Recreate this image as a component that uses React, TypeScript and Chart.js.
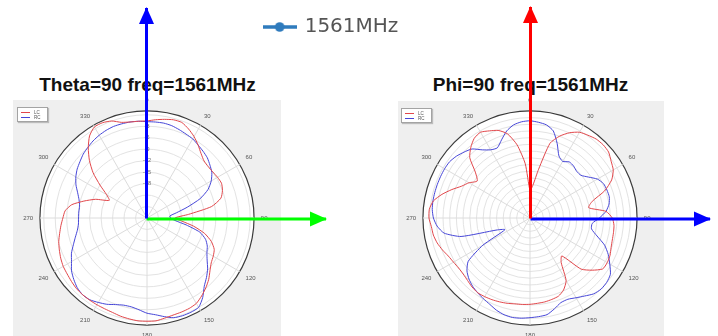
import React, { useEffect, useRef } from 'react';
import { Chart, registerables } from 'chart.js';

Chart.register(...registerables);

// ---------- data ----------
const angleCategories = [
  0, 5, 10, 15, 20, 25, 30, 35, 40, 45, 50, 55,
  60, 65, 70, 75, 80, 85, 90, 95, 100, 105, 110, 115,
  120, 125, 130, 135, 140, 145, 150, 155, 160, 165, 170, 175,
  180, 185, 190, 195, 200, 205, 210, 215, 220, 225, 230, 235,
  240, 245, 250, 255, 260, 265, 270, 275, 280, 285, 290, 295,
  300, 305, 310, 315, 320, 325, 330, 335, 340, 345, 350, 355,
];

// Theta=90 cut (dB)
const thetaLC = [
  -1.6, -1.2, -0.8, -0.4, -0.4, -1.3, -2.4, -3.7, -5.0, -5.9, -6.1, -6.0,
  -5.7, -5.5, -6.0, -7.0, -9.9, -16.1, -19.7, -17.9, -14.6, -11.4, -9.1, -7.6,
  -7.0, -6.5, -5.5, -4.2, -3.1, -2.1, -1.2, -0.9, -0.8, -0.7, -0.4, 0.0,
  0.0, 0.0, -0.2, -0.4, -0.7, -0.8, -0.8, -0.8, -0.8, -0.9, -1.2, -1.5,
  -1.7, -2.1, -2.6, -3.1, -3.8, -4.4, -5.0, -5.5, -7.0, -9.9, -12.7, -16.1,
  -14.8, -12.0, -8.6, -5.7, -3.1, -0.8, 0.5, 0.5, 0.0, -1.1, -1.5, -1.6,
];
const thetaRC = [
  -1.8, -1.8, -1.8, -2.0, -2.4, -2.8, -3.1, -3.7, -4.2, -4.7, -5.5, -6.3,
  -7.6, -9.4, -12.2, -16.1, -19.2, -21.0, -20.8, -19.7, -16.6, -12.7, -10.7, -9.6,
  -8.9, -7.8, -6.3, -5.0, -3.7, -1.6, 0.0, 0.2, 0.2, 0.0, -0.8, -1.6,
  -2.1, -2.9, -3.4, -3.4, -2.9, -2.1, -1.5, -0.9, -0.8, -1.2, -2.0, -2.9,
  -4.2, -5.2, -6.5, -7.6, -8.5, -9.0, -9.1, -9.1, -9.1, -8.6, -7.7, -6.5,
  -5.5, -4.7, -4.1, -3.4, -2.9, -2.4, -2.0, -1.7, -1.5, -1.5, -1.5, -1.6,
];

// Phi=90 cut (dB)
const phiLC = [
  -34.6, -32.3, -24.8, -12.3, -7.9, -4.8, -2.6, -1.7, -0.8, -0.6, -1.0, -2.6,
  -3.9, -6.6, -11.4, -18.1, -20.3, -12.8, -10.1, -9.2, -9.0, -8.8, -8.3, -7.4,
  -7.0, -7.2, -10.6, -14.6, -24.8, -22.6, -14.6, -11.4, -9.7, -9.2, -8.8, -8.6,
  -8.3, -8.1, -7.9, -7.4, -7.0, -6.6, -6.3, -6.1, -6.6, -7.4, -7.9, -7.9,
  -7.4, -6.6, -5.2, -3.9, -3.0, -2.6, -1.7, -1.7, -3.0, -6.1, -9.7, -13.2,
  -15.4, -18.1, -15.0, -8.8, -5.7, -3.4, -2.6, -3.9, -5.2, -7.9, -13.7, -22.6,
];
const phiRC = [
  -3.4, -3.9, -4.6, -6.6, -11.4, -16.3, -17.7, -16.3, -16.6, -17.4, -17.2, -15.0,
  -12.1, -10.6, -10.3, -10.2, -11.0, -12.8, -15.9, -19.0, -19.0, -15.9, -11.4, -8.3,
  -5.7, -3.0, -2.1, -1.9, -2.6, -4.3, -5.7, -6.8, -6.6, -4.8, -3.0, -2.6,
  -2.3, -1.9, -1.7, -2.1, -3.0, -4.3, -5.2, -6.1, -7.0, -8.3, -10.1, -13.2,
  -22.6, -34.6, -31.4, -15.0, -7.9, -5.2, -3.7, -3.0, -2.8, -2.8, -2.8, -2.8,
  -2.8, -3.0, -3.9, -5.2, -6.6, -9.7, -11.7, -12.3, -9.7, -6.6, -4.6, -3.7,
];

const seriesNames = ['LC', 'RC'];
const thetaRange = [-27, 1];
const phiRange = [-47, 1];
const thetaTickLabels = [-3, -6, -9, -12, -15, -18];
const phiTickLabels = [-3, -9, -15, -21, -27, -33, -39];
const angleLabelStep = 30;
const dbStep = 3;

const thetaTitle = 'Theta=90 freq=1561MHz';
const phiTitle = 'Phi=90 freq=1561MHz';
const legendName = '1561MHz';

// axis arrows (page coordinates)
const thetaZArrow = [{ x: 146.5, y: 218.5 }, { x: 146.5, y: 8 }];
const thetaXArrow = [{ x: 146.5, y: 219 }, { x: 326, y: 219 }];
const phiZArrow = [{ x: 530.5, y: 218.5 }, { x: 530.5, y: 7 }];
const phiYArrow = [{ x: 530.5, y: 219 }, { x: 710, y: 219 }];

// ---------- styles ----------
const LC_COLOR = '#e2474b';
const RC_COLOR = '#4646d8';
const LEGEND_BLUE = '#2f7bbd';
const POLAR_FONT = "'Liberation Sans', Arial, sans-serif";

function isMajorAngle(index: number) {
  return angleCategories[index] % angleLabelStep === 0;
}

function polarConfig(lc: number[], rc: number[], range: number[], tickLabels: number[]): any {
  const [min, max] = range;
  return {
    type: 'radar',
    data: {
      labels: angleCategories,
      datasets: [
        { label: seriesNames[0], data: lc, borderColor: LC_COLOR, borderWidth: 1, pointRadius: 0, fill: false, tension: 0.2 },
        { label: seriesNames[1], data: rc, borderColor: RC_COLOR, borderWidth: 1, pointRadius: 0, fill: false, tension: 0.2 },
      ],
    },
    options: {
      responsive: false,
      animation: false,
      events: [],
      layout: { padding: 0 },
      plugins: { legend: { display: false }, tooltip: { enabled: false } },
      scales: {
        r: {
          min,
          max,
          startAngle: 0,
          backgroundColor: '#ffffff',
          ticks: {
            stepSize: dbStep,
            showLabelBackdrop: false,
            backdropPadding: 0,
            color: '#666',
            font: { size: 5.5, family: POLAR_FONT },
            callback: (v: number) => (tickLabels.includes(v) ? String(v) : ''),
          },
          grid: {
            circular: true,
            color: (ctx: any) => (ctx.tick && ctx.tick.value === max ? '#3a3a3a' : '#e3e3e3'),
            lineWidth: (ctx: any) => (ctx.tick && ctx.tick.value === max ? 1.2 : 1),
          },
          angleLines: {
            color: (ctx: any) => (isMajorAngle(ctx.index) ? '#dcdcdc' : 'rgba(0,0,0,0)'),
            lineWidth: (ctx: any) => (isMajorAngle(ctx.index) ? 1 : 0),
          },
          pointLabels: {
            display: true,
            padding: 4,
            color: '#555',
            font: { size: 6, family: POLAR_FONT },
            callback: (label: any, index: number) => (isMajorAngle(index) ? String(label) : ''),
          },
        },
      },
    },
  };
}

const arrowHeadPlugin = {
  id: 'arrowHeads',
  afterDatasetsDraw(chart: any) {
    const ctx = chart.ctx;
    chart.data.datasets.forEach((ds: any, i: number) => {
      const pts = chart.getDatasetMeta(i).data;
      if (pts.length < 2) return;
      const a = pts[pts.length - 2];
      const b = pts[pts.length - 1];
      const dx = b.x - a.x;
      const dy = b.y - a.y;
      const len = Math.hypot(dx, dy) || 1;
      const ux = dx / len;
      const uy = dy / len;
      const L = 16;
      const W = 7.5;
      const bx = b.x - ux * L;
      const by = b.y - uy * L;
      ctx.save();
      ctx.fillStyle = ds.borderColor;
      ctx.beginPath();
      ctx.moveTo(b.x + ux * 1, b.y + uy * 1);
      ctx.lineTo(bx - uy * W, by + ux * W);
      ctx.lineTo(bx + uy * W, by - ux * W);
      ctx.closePath();
      ctx.fill();
      ctx.restore();
    });
  },
};

function MiniLegend({ left, top }: { left: number; top: number }) {
  const colors = [LC_COLOR, RC_COLOR];
  return (
    <div
      style={{
        position: 'absolute',
        left,
        top,
        width: 31,
        height: 15,
        boxSizing: 'border-box',
        background: '#fff',
        border: '1px solid #a3a3a3',
        boxShadow: '1px 1px 1px #bcbcbc',
        paddingTop: 1.5,
      }}
    >
      {seriesNames.map((n, i) => (
        <div key={n} style={{ display: 'flex', alignItems: 'center', height: 5.5 }}>
          <span style={{ display: 'inline-block', width: 9, height: 1, background: colors[i], marginLeft: 3 }} />
          <span style={{ fontSize: 4.5, lineHeight: '5px', color: '#555', marginLeft: 4, fontFamily: POLAR_FONT }}>{n}</span>
        </div>
      ))}
    </div>
  );
}

export default function App() {
  const thetaRef = useRef<HTMLCanvasElement>(null);
  const phiRef = useRef<HTMLCanvasElement>(null);
  const legendRef = useRef<HTMLCanvasElement>(null);
  const arrowRef = useRef<HTMLCanvasElement>(null);

  useEffect(() => {
    const charts: Chart[] = [];
    charts.push(new Chart(thetaRef.current as HTMLCanvasElement, polarConfig(thetaLC, thetaRC, thetaRange, thetaTickLabels)));
    charts.push(new Chart(phiRef.current as HTMLCanvasElement, polarConfig(phiLC, phiRC, phiRange, phiTickLabels)));

    const icon = document.createElement('canvas');
    icon.width = 34;
    icon.height = 12;
    const ic = icon.getContext('2d') as CanvasRenderingContext2D;
    ic.strokeStyle = LEGEND_BLUE;
    ic.lineWidth = 3.5;
    ic.beginPath();
    ic.moveTo(0, 6);
    ic.lineTo(34, 6);
    ic.stroke();
    ic.fillStyle = LEGEND_BLUE;
    ic.beginPath();
    ic.arc(17, 6, 4.8, 0, Math.PI * 2);
    ic.fill();

    charts.push(
      new Chart(legendRef.current as HTMLCanvasElement, {
        type: 'line',
        data: { labels: [], datasets: [{ label: legendName, data: [], borderColor: LEGEND_BLUE, backgroundColor: LEGEND_BLUE }] },
        options: {
          responsive: false,
          animation: false,
          events: [],
          layout: { padding: { top: 5 } },
          scales: { x: { display: false }, y: { display: false } },
          plugins: {
            tooltip: { enabled: false },
            legend: {
              display: true,
              position: 'top',
              labels: {
                usePointStyle: true,
                pointStyle: icon as any,
                pointStyleWidth: 30,
                color: '#555',
                padding: 12,
                font: { size: 20, family: "'DejaVu Sans', Verdana, sans-serif" },
              },
            },
          },
        },
      } as any)
    );

    const arrowDs = (data: any[], color: string) => ({
      data,
      showLine: true,
      borderColor: color,
      backgroundColor: color,
      borderWidth: 3,
      borderCapStyle: 'butt',
      pointRadius: 0,
    });
    charts.push(
      new Chart(arrowRef.current as HTMLCanvasElement, {
        type: 'scatter',
        data: {
          datasets: [
            arrowDs(thetaZArrow, '#0000ff'),
            arrowDs(thetaXArrow, '#00ff00'),
            arrowDs(phiZArrow, '#ff0000'),
            arrowDs(phiYArrow, '#0000ff'),
          ],
        },
        options: {
          responsive: false,
          animation: false,
          events: [],
          layout: { padding: 0 },
          plugins: { legend: { display: false }, tooltip: { enabled: false } },
          scales: {
            x: { type: 'linear', min: 0, max: 718, display: false },
            y: { type: 'linear', min: 0, max: 336, reverse: true, display: false },
          },
        },
        plugins: [arrowHeadPlugin],
      } as any)
    );

    return () => charts.forEach((c) => c.destroy());
  }, []);

  const titleStyle = (cx: number): React.CSSProperties => ({
    position: 'absolute',
    left: cx - 150,
    width: 300,
    top: 74,
    textAlign: 'center',
    font: "bold 19px 'Liberation Sans', Arial, sans-serif",
    lineHeight: '22px',
    color: '#111',
    whiteSpace: 'nowrap',
  });

  return (
    <div style={{ position: 'fixed', left: 0, top: 0, width: 718, height: 336, overflow: 'hidden', background: '#fff' }}>
      <div style={{ position: 'absolute', left: 13, top: 100, width: 268, height: 236, background: '#efefef' }} />
      <div style={{ position: 'absolute', left: 398, top: 101, width: 266, height: 235, background: '#efefef' }} />
      <canvas ref={thetaRef} width={268} height={243} style={{ position: 'absolute', left: 13, top: 97 }} />
      <canvas ref={phiRef} width={266} height={243} style={{ position: 'absolute', left: 397, top: 97 }} />
      <div style={titleStyle(147.5)}>{thetaTitle}</div>
      <div style={titleStyle(530.5)}>{phiTitle}</div>
      <MiniLegend left={17} top={107} />
      <MiniLegend left={401} top={108} />
      <canvas ref={legendRef} width={663} height={120} style={{ position: 'absolute', left: 0, top: 0 }} />
      <canvas ref={arrowRef} width={718} height={336} style={{ position: 'absolute', left: 0, top: 0, pointerEvents: 'none' }} />
    </div>
  );
}
